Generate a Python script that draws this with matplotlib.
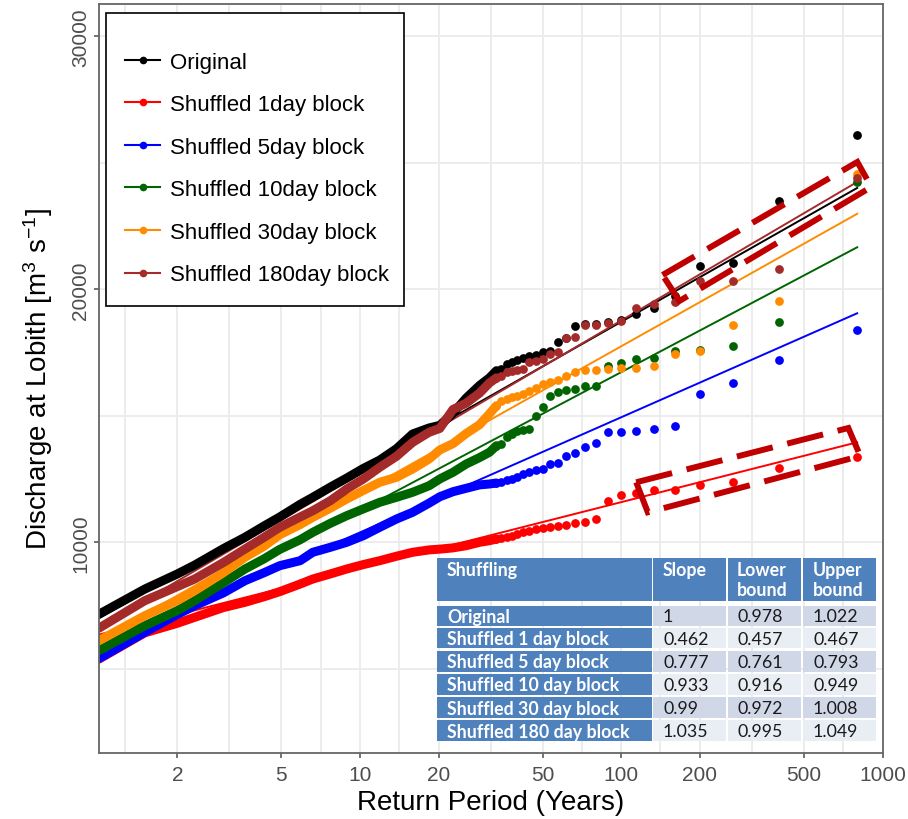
import matplotlib
matplotlib.use('Agg')
import matplotlib.pyplot as plt
from matplotlib.lines import Line2D
from matplotlib.patches import Rectangle, Polygon

plt.rcParams['font.family'] = ['Liberation Sans', 'DejaVu Sans']
plt.rcParams['mathtext.default'] = 'regular'

# ---------------- data ----------------
series_names = ['Original', 'Shuffled 1day block', 'Shuffled 5day block',
                'Shuffled 10day block', 'Shuffled 30day block', 'Shuffled 180day block']
series_colors = ['#000000', '#FF0000', '#0000FF', '#006400', '#FF8C00', '#A52A2A']

# return periods of the 24 largest annual maxima
rp_top = [800, 400, 266.7, 200, 160, 133.3, 114.3, 100, 88.9, 80, 72.7, 66.7,
          61.5, 57.1, 53.3, 50, 47.1, 44.4, 42.1, 40, 38.1, 36.4, 34.8, 33.3]

q_top_original = [26100, 23480, 21030, 20910, 19750, 19260, 19030, 18800, 18720, 18640, 18610, 18540,
                  18060, 17900, 17570, 17510, 17420, 17380, 17300, 17220, 17115, 17049, 16851, 16784]
q_top_1day = [13384, 12937, 12372, 12277, 12080, 12070, 11960, 11870, 11633, 10921, 10815, 10763,
              10684, 10657, 10593, 10553, 10510, 10459, 10395, 10330, 10261, 10220, 10158, 10130]
q_top_5day = [18392, 17206, 16285, 15862, 14597, 14479, 14400, 14372, 14372, 13925, 13755, 13530,
              13400, 13135, 13095, 12898, 12870, 12790, 12700, 12600, 12502, 12450, 12396, 12344]
q_top_10day = [24231, 18720, 17772, 17600, 17574, 17286, 17246, 17088, 16957, 16167, 16167, 16060,
               16032, 15929, 15771, 15336, 14981, 14479, 14440, 14412, 14281, 14150, 13886, 13819]
q_top_30day = [24560, 19530, 18575, 17556, 17460, 16960, 16870, 16878, 16851, 16825, 16825, 16744,
               16586, 16428, 16349, 16258, 16100, 15993, 15862, 15800, 15732, 15650, 15597, 15400]
q_top_180day = [24389, 20804, 20341, 20341, 19487, 19420, 19250, 18736, 18650, 18590, 18590, 18104,
                18064, 17511, 17443, 17246, 17180, 17115, 16851, 16820, 16784, 16720, 16586, 16500]

# dense part of the plotting positions (return period grid)
rp_dense = [1.0, 1.5, 2.0, 2.33, 3.0, 3.63, 4.3, 4.93, 5.9, 6.6, 7.7,
            8.9, 10.3, 11.9, 13.8, 15.9, 18.4, 20.2, 22.7, 25.5, 28.7, 31.3, 33.3]

q_dense_original = [7150, 8150, 8750, 9100, 9750, 10200, 10650, 11000, 11500, 11780, 12180,
                    12540, 12920, 13250, 13700, 14281, 14520, 14620, 15100, 15700, 16200, 16500, 16784]
q_dense_1day = [5380, 6420, 6800, 7035, 7420, 7628, 7850, 8050, 8350, 8549, 8750,
                8945, 9120, 9273, 9450, 9605, 9700, 9730, 9780, 9866, 10000, 10063, 10130]
q_dense_5day = [5400, 6442, 7150, 7494, 8000, 8482, 8800, 9075, 9273, 9605, 9802,
                10000, 10261, 10593, 10921, 11186, 11550, 11800, 12000, 12135, 12270, 12305, 12344]
q_dense_10day = [5715, 6703, 7300, 7691, 8400, 8945, 9350, 9720, 10100, 10395, 10750,
                 11052, 11320, 11581, 11779, 11977, 12237, 12502, 12767, 13095, 13350, 13558, 13819]
q_dense_30day = [6110, 7098, 7700, 8087, 8800, 9407, 9850, 10300, 10700, 10988, 11350,
                 11712, 12050, 12372, 12569, 12898, 13293, 13650, 13900, 14300, 14650, 15080, 15400]
q_dense_180day = [6600, 7691, 8250, 8549, 9200, 9735, 10200, 10593, 11000, 11249, 11644,
                  12107, 12502, 12965, 13400, 13950, 14350, 14500, 15250, 15500, 15900, 16300, 16500]

# fitted straight lines (value at T=1 and at T=800)
fit_T = [1.0, 800]
fit_left = [7000, 6350, 5839, 5794, 6150, 6642]
fit_right = [24006, 13953, 19053, 21662, 22985, 24243]

# annotation boxes (corners in data coordinates)
box_upper_T = [143.9, 801, 906, 167]
box_upper_Q = [20566, 25033, 24045, 19539]
box_lower_T = [114.1, 740, 822, 126.4]
box_lower_Q = [12372, 14518, 13411, 11186]

# slope table
table_header = ['Shuffling', 'Slope', 'Lower\nbound', 'Upper\nbound']
table_rows = ['Original', 'Shuffled 1 day block', 'Shuffled 5 day block',
              'Shuffled 10 day block', 'Shuffled 30 day block', 'Shuffled 180 day block']
table_slope = ['1', '0.462', '0.777', '0.933', '0.99', '1.035']
table_lower = ['0.978', '0.457', '0.761', '0.916', '0.972', '0.995']
table_upper = ['1.022', '0.467', '0.793', '0.949', '1.008', '1.049']

x_major = [2, 5, 10, 20, 50, 100, 200, 500, 1000]
x_minor = [1.26, 3.16, 7.07, 14.1, 31.6, 70.7, 141, 316, 707]
y_major = [10000, 20000, 30000]
y_minor = [5000, 15000, 25000]

# ---------------- figure ----------------
W, H = 908, 820
fig = plt.figure(figsize=(W / 100, H / 100), dpi=100)
ax = fig.add_axes([98.7 / W, 1 - 753.7 / H, (882.5 - 98.7) / W, (753.7 - 5) / H])
ax.set_xscale('log')
ax.set_xlim(1.0, 1000)
ax.set_ylim(1684, 31277)

ax.set_xticks(x_major)
ax.set_xticklabels([str(v) for v in x_major])
ax.set_xticks(x_minor, minor=True)
ax.set_xticklabels([], minor=True)
ax.set_yticks(y_major)
ax.set_yticklabels([str(v) for v in y_major], rotation=90, va='center')
ax.set_yticks(y_minor, minor=True)
ax.grid(which='both', color='#EBEBEB', lw=1.3, zorder=0)
ax.set_axisbelow(True)
ax.tick_params(which='major', direction='out', length=3.8, width=1.1, color='#4D4D4D',
               labelcolor='#4D4D4D', labelsize=15)
ax.tick_params(axis='x', which='major', pad=5)
ax.tick_params(axis='y', which='major', pad=2.5)
ax.tick_params(which='minor', length=0)
for s in ax.spines.values():
    s.set_color('#666666')
    s.set_linewidth(1.3)

q_tops = [q_top_original, q_top_1day, q_top_5day, q_top_10day, q_top_30day, q_top_180day]
q_denses = [q_dense_original, q_dense_1day, q_dense_5day, q_dense_10day, q_dense_30day, q_dense_180day]

for i, c in enumerate(series_colors):
    ax.plot(fit_T, [fit_left[i], fit_right[i]], color=c, lw=1.4, zorder=1.5)
for i, c in enumerate(series_colors):
    ax.plot(rp_dense, q_denses[i], color=c, lw=6.5, solid_capstyle='round',
            solid_joinstyle='round', zorder=2 + i * 0.1)
    ax.plot(rp_top, q_tops[i], 'o', color=c, ms=6.3, mec='none', zorder=2 + i * 0.1)

for bt, bq in [(box_upper_T, box_upper_Q), (box_lower_T, box_lower_Q)]:
    ax.add_patch(Polygon(list(zip(bt, bq)), closed=True, fill=False, edgecolor='#C00000',
                         lw=4.3, linestyle=(0, (6.2, 2.5)), joinstyle='miter', zorder=5))

ax.set_xlabel('Return Period (Years)', fontsize=20)
ax.xaxis.set_label_coords(0.5, (753.7 - 803) / 748.7)
ax.xaxis.label.set_va('center')
ax.set_ylabel('Discharge at Lobith [m$^{3}$ s$^{-1}$]', fontsize=20)
ax.yaxis.set_label_coords((38 - 98.7) / 783.8, 0.5)
ax.yaxis.label.set_va('center')

# legend
handles = [Line2D([], [], color=c, lw=1.5, marker='o', ms=5.5, mec='none') for c in series_colors]
ax.add_patch(Rectangle(((106 - 98.7) / 783.8, 1 - (307 - 5) / 748.7), (404 - 106) / 783.8,
                       (307 - 14) / 748.7, transform=ax.transAxes, facecolor='white',
                       edgecolor='black', lw=1.2, zorder=8))
leg = ax.legend(handles, series_names, loc='upper left',
                bbox_to_anchor=((125 - 98.7) / 783.8, 1 - (52.6 - 5) / 748.7),
                frameon=False, borderaxespad=0, borderpad=0, handlelength=1.58,
                handletextpad=0.45, labelspacing=0.97, fontsize=16)
leg.set_zorder(9)

# table
def frect(x0, y0, x1, y1, color):
    fig.add_artist(Rectangle((x0 / W, 1 - y1 / H), (x1 - x0) / W, (y1 - y0) / H,
                             transform=fig.transFigure, facecolor=color, edgecolor='none', zorder=10))

col_x = [(437.3, 651.7), (653.3, 726), (727.7, 801), (802.7, 876)]
text_x = [447, 663, 737, 813]
head_y = (559.3, 601.7)
row_y = [(607.3, 626.7), (629, 649.3), (652, 672.7), (675, 695.7), (698.3, 719), (721.3, 742.3)]
blue = '#4F81BD'
shade = ['#D0D8E8', '#E9EDF4']
tfont = ['Lato', 'DejaVu Sans']
for j, (x0, x1) in enumerate(col_x):
    frect(x0, head_y[0], x1, head_y[1], blue)
    fig.text(text_x[j] / W, 1 - 562 / H, table_header[j], color='white', fontsize=12.8,
             fontweight='bold', family=tfont, va='top', ha='left', linespacing=1.2, zorder=11)
cols = [table_rows, table_slope, table_lower, table_upper]
for r, (y0, y1) in enumerate(row_y):
    for j, (x0, x1) in enumerate(col_x):
        frect(x0, y0, x1, y1, blue if j == 0 else shade[r % 2])
        fig.text(text_x[j] / W, 1 - ((y0 + y1) / 2 + 0.5) / H, cols[j][r],
                 color='white' if j == 0 else '#1A1A1A', fontsize=12.8,
                 fontweight='bold' if j == 0 else 'normal', family=tfont,
                 va='center', ha='left', zorder=11)

fig.savefig('out.png', dpi=100)
